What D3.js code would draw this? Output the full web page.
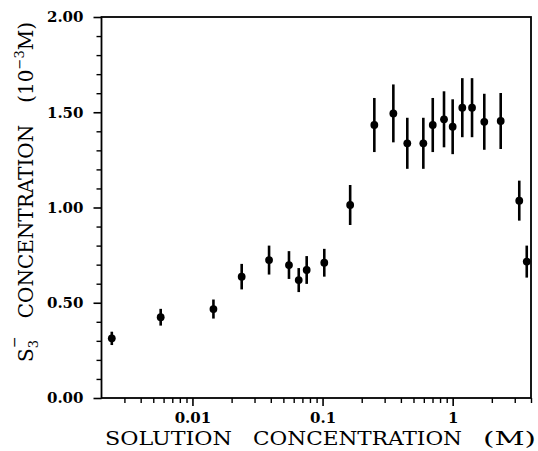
<!DOCTYPE html>
<html>
<head>
<meta charset="utf-8">
<script src="https://cdn.jsdelivr.net/npm/d3@7"></script>
<style>
  html, body { margin: 0; padding: 0; background: #fff; }
  svg { display: block; }
</style>
</head>
<body>
<svg id="chart" width="538" height="451"></svg>
<script>
// Solution concentration (M)
const conc = [0.0024, 0.0057, 0.0145, 0.0239, 0.0388, 0.0552, 0.0656, 0.0755, 0.1031,
              0.163, 0.250, 0.350, 0.448, 0.595, 0.703, 0.858, 1.00, 1.186, 1.409,
              1.75, 2.34, 3.25, 3.71];
// S3- concentration (10^-3 M)
const s3 = [0.313, 0.424, 0.467, 0.637, 0.724, 0.698, 0.619, 0.672, 0.710,
            1.013, 1.433, 1.494, 1.337, 1.337, 1.433, 1.463, 1.424, 1.524, 1.524,
            1.450, 1.454, 1.036, 0.716];
// error bar half-length (10^-3 M)
const err = [0.035, 0.044, 0.050, 0.067, 0.076, 0.073, 0.063, 0.073, 0.073,
             0.105, 0.142, 0.152, 0.134, 0.134, 0.142, 0.147, 0.144, 0.155, 0.155,
             0.147, 0.147, 0.105, 0.084];

const xDomain = [0.002, 4];
const yDomain = [0, 2];
const xMajorTicks = [0.01, 0.1, 1];
const xTickLabels = ["0.01", "0.1", "1"];
const yMajorTicks = [0, 0.5, 1.0, 1.5, 2.0];
const yTickLabels = ["0.00", "0.50", "1.00", "1.50", "2.00"];

const svg = d3.select("#chart");
const L = 101.5, R = 531, T = 17, B = 398;

const x = d3.scaleLog().domain(xDomain).range([L, R]);
const y = d3.scaleLinear().domain(yDomain).range([B, T]);

const serif = "'DejaVu Serif', 'Liberation Serif', serif";

// minor ticks
const xMinor = x.ticks().filter(v => !xMajorTicks.some(m => Math.abs(m - v) < 1e-9) && v > xDomain[0] * 1.001);
const yMinor = d3.range(0, 2.0001, 0.1).filter(v => Math.abs(v * 2 - Math.round(v * 2)) > 1e-6);

// Y axis
const yAxis = d3.axisLeft(y).tickValues(yMajorTicks)
  .tickFormat((d, i) => yTickLabels[i]).tickSize(8).tickPadding(10);
const gy = svg.append("g").attr("transform", `translate(${L},0)`).call(yAxis);
gy.select(".domain").remove();
gy.selectAll(".tick line").attr("stroke", "#000").attr("stroke-width", 1.6);
gy.selectAll(".tick text").attr("font-family", serif).attr("font-weight", "bold")
  .attr("font-size", 15).attr("fill", "#000");
const gy2 = svg.append("g").attr("transform", `translate(${L},0)`)
  .call(d3.axisLeft(y).tickValues(yMinor).tickSize(5).tickFormat(""));
gy2.select(".domain").remove();
gy2.selectAll(".tick line").attr("stroke", "#000").attr("stroke-width", 1.4);

// X axis
const xAxis = d3.axisBottom(x).tickValues(xMajorTicks)
  .tickFormat((d, i) => xTickLabels[i]).tickSize(8).tickPadding(8);
const gx = svg.append("g").attr("transform", `translate(0,${B})`).call(xAxis);
gx.select(".domain").remove();
gx.selectAll(".tick line").attr("stroke", "#000").attr("stroke-width", 1.6);
gx.selectAll(".tick text").attr("font-family", serif).attr("font-weight", "bold")
  .attr("font-size", 15).attr("fill", "#000").attr("y", 25).attr("dy", null);
const gx2 = svg.append("g").attr("transform", `translate(0,${B})`)
  .call(d3.axisBottom(x).tickValues(xMinor).tickSize(5).tickFormat(""));
gx2.select(".domain").remove();
gx2.selectAll(".tick line").attr("stroke", "#000").attr("stroke-width", 1.4);

// frame
svg.append("rect").attr("x", L).attr("y", T).attr("width", R - L).attr("height", B - T)
  .attr("fill", "none").attr("stroke", "#000").attr("stroke-width", 1.8);

// data
const data = conc.map((c, i) => ({ c, v: s3[i], e: err[i] }));
const g = svg.append("g");
g.selectAll("line.err").data(data).join("line").attr("class", "err")
  .attr("x1", d => x(d.c)).attr("x2", d => x(d.c))
  .attr("y1", d => y(d.v - d.e)).attr("y2", d => y(d.v + d.e))
  .attr("stroke", "#000").attr("stroke-width", 2.6);
g.selectAll("circle").data(data).join("circle")
  .attr("cx", d => x(d.c)).attr("cy", d => y(d.v)).attr("r", 3.9).attr("fill", "#000");

// X title
const xt = svg.append("g").attr("font-family", serif).attr("font-size", 19).attr("fill", "#000");
[["SOLUTION", 105, 127], ["CONCENTRATION", 253, 209], ["(M)", 483, 53]].forEach(([t, px, len]) => {
  xt.append("text").attr("x", px).attr("y", 445).attr("textLength", len)
    .attr("lengthAdjust", "spacingAndGlyphs").text(t);
});

// Y title
const yt = svg.append("text").attr("transform", "translate(33,362) rotate(-90)")
  .attr("font-family", serif).attr("font-size", 20).attr("fill", "#000");
yt.append("tspan").text("S");
yt.append("tspan").attr("font-size", 13).attr("dy", 5).text("3");
yt.append("tspan").attr("font-size", 14).attr("dx", -8).attr("dy", -19).text("\u2212");
yt.append("tspan").attr("dy", 14).attr("dx", 18).text("CONCENTRATION");
yt.append("tspan").attr("dx", 22).text("(10");
yt.append("tspan").attr("font-size", 13).attr("dy", -9).text("\u22123");
yt.append("tspan").attr("dy", 9).text("M)");
</script>
</body>
</html>
